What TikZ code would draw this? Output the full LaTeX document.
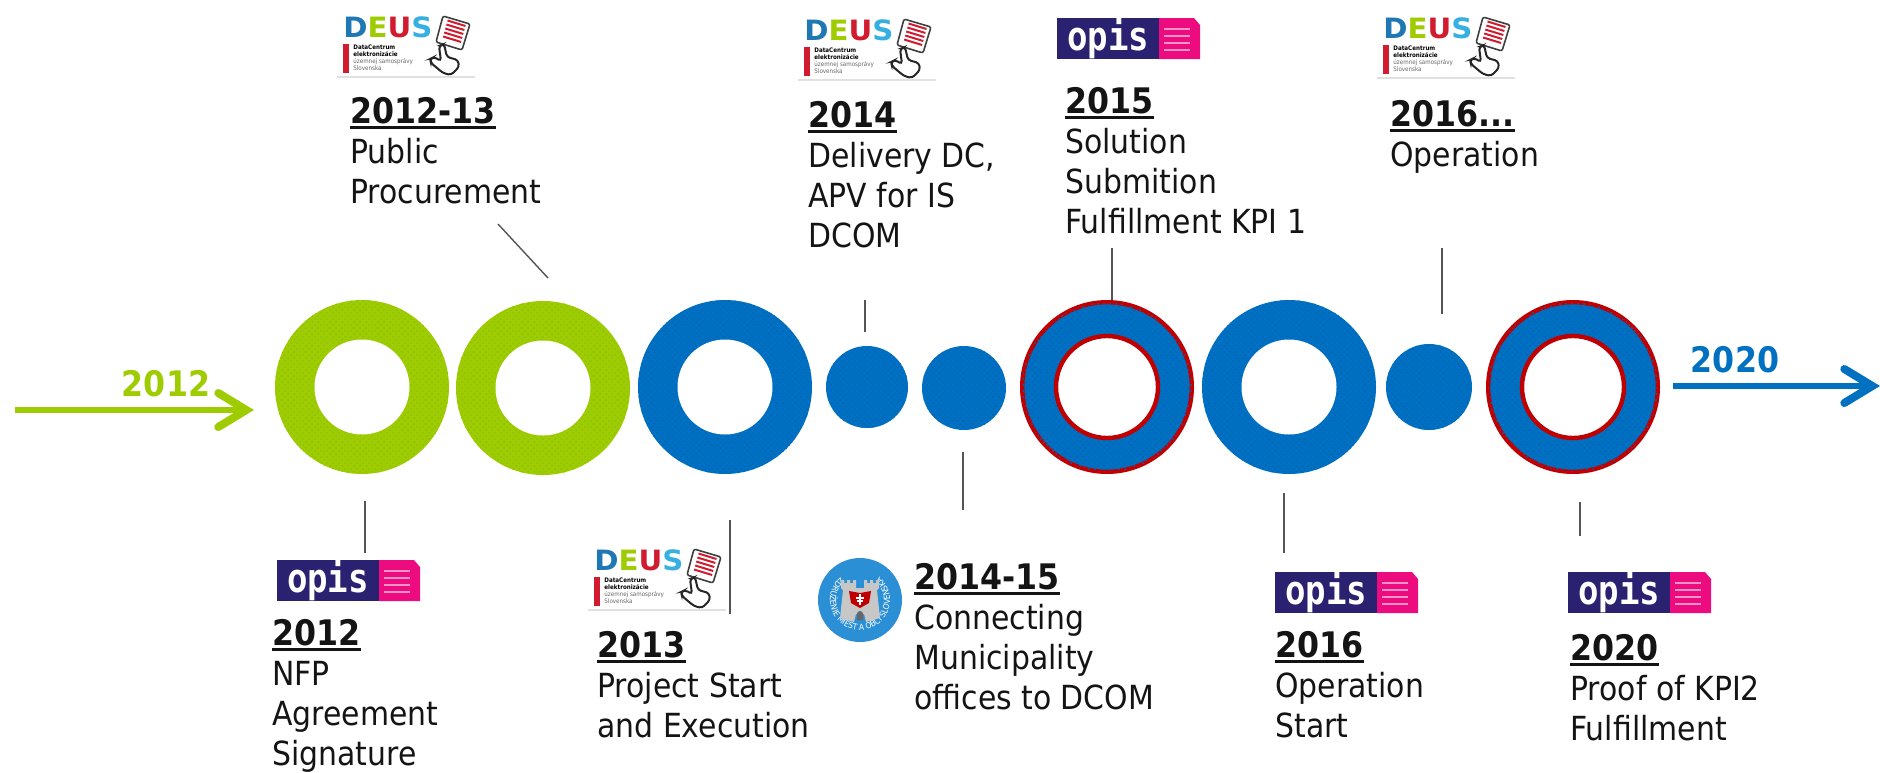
\documentclass[tikz,border=0pt]{standalone}
\usepackage{fontspec}
\setmainfont[FakeStretch=0.9]{DejaVu Sans}
\setmonofont{DejaVu Sans Mono}
\usetikzlibrary{arrows.meta,patterns,decorations.text}
\definecolor{ringgreen}{HTML}{9FCC00}
\definecolor{dotgreen}{HTML}{8AC40C}
\definecolor{ringblue}{HTML}{0070C0}
\definecolor{dotblue}{HTML}{0064C4}
\definecolor{ringred}{HTML}{C00000}
\definecolor{leadgray}{HTML}{555555}
\definecolor{opisnavy}{HTML}{2A2170}
\definecolor{opispink}{HTML}{EC0C80}
\definecolor{deusblue}{HTML}{1F77B4}
\definecolor{deussky}{HTML}{35B0E0}
\definecolor{deusred}{HTML}{D01C2E}
\definecolor{sealblue}{HTML}{2B8FD6}
\tikzset{
  greenring/.style={circle, inner sep=0pt, minimum size=87pt, fill=ringgreen, postaction={pattern=crosshatch dots, pattern color=dotgreen}},
  bluering/.style={circle, inner sep=0pt, minimum size=87pt, fill=ringblue, postaction={pattern=crosshatch dots, pattern color=dotblue}},
  redring/.style={circle, inner sep=0pt, minimum size=84.8pt, draw=ringred, line width=2.2pt, fill=ringblue, postaction={pattern=crosshatch dots, pattern color=dotblue}},
  bluedisc/.style={circle, inner sep=0pt, fill=ringblue, postaction={pattern=crosshatch dots, pattern color=dotblue}},
  holedisc/.style={circle, inner sep=0pt, minimum size=47.5pt, fill=white},
  redhole/.style={circle, inner sep=0pt, minimum size=51pt, draw=ringred, line width=2.2pt, fill=white},
  leaderline/.style={leadgray, line width=0.7pt},
  yeararrow/.style={line width=3pt, -{Straight Barb[length=14pt, width=17pt, line width=4pt, line cap=round]}},
  stepnote/.style={anchor=north west, inner sep=0pt, align=left, font=\fontsize{16.6}{20}\selectfont, text=black!92},
  tinyline/.style={anchor=north west, inner sep=0pt, align=left, font=\fontsize{3.1}{3.6}\selectfont},
}
\def\yr#1{\setbox0\hbox{\fontsize{17.6}{20}\selectfont\bfseries #1}\rlap{\copy0}\rule[-2.6pt]{\wd0}{1.5pt}}
\def\milestone(#1,#2,#3,#4,#5){
  \node[stepnote] (#1) at (#2,#3) {\yr{#4}\\#5};
}
\def\ringplain(#1,#2,#3,#4){
  \node[#4] (#1) at (#2,#3) {};
  \node[holedisc] (#1h) at (#1) {};
}
\def\ringred(#1,#2,#3){
  \node[redring] (#1) at (#2,#3) {};
  \node[redhole] (#1h) at (#1) {};
}
\def\leader(#1,#2,#3,#4,#5){
  \coordinate (#1a) at (#2,#3);
  \coordinate (#1b) at (#4,#5);
  \draw[leaderline] (#1a) -- (#1b);
}
\def\opislogo(#1,#2,#3){
  \begin{scope}[shift={(#2,#3)}]
  \fill[opisnavy] (0,0) rectangle (102,41);
  \fill[opispink] (102,0) -- (137,0) -- (143,7) -- (143,41) -- (102,41) -- cycle;
  \node[anchor=base, inner sep=0pt, text=white, font=\fontsize{20}{20}\ttfamily\bfseries, xscale=0.85] (#1) at (51,32) {opis};
  \foreach \ly in {11,18,25,32} \draw[white!55!opispink, line width=0.6pt] (107,\ly) -- (133,\ly);
  \end{scope}
}
\def\deuslogo(#1,#2,#3){
  \begin{scope}[shift={(#2,#3)}]
  \fill[black!12] (0,61) rectangle (138,63);
  \node[anchor=north west, inner sep=0pt, xscale=1.16, font=\fontsize{14}{14}\bfseries] (#1) at (6,1) {\textcolor{deusblue}{D}\textcolor{ringgreen}{E}\textcolor{deusred}{U}\textcolor{deussky}{S}};
  \fill[deusred] (6,29) rectangle (12,58);
  \node[tinyline] (#1t) at (16,29) {\textbf{DataCentrum}\\\textbf{elektronizácie}\\\textcolor{black!60}{územnej samosprávy}\\\textcolor{black!60}{Slovenska}};
  \draw[black!75, fill=white, line width=0.8pt, rounded corners=1pt] (106,1) -- (133,9) -- (125,35) -- (99,27) -- cycle;
  \foreach \ls in {0,1,2,3,4} \draw[deusred, line width=1pt] (110.5-\ls*1.1,5.5+\ls*4) -- (128.5-\ls*1.1,11+\ls*4);
  \draw[black!85, fill=white, line width=1pt, rounded corners=1.5pt] (102,31) -- (107,29) -- (110,42) -- (121,45) -- (122,52) -- (114,60) -- (106,58) -- (94,48) -- (93,44) -- (97,42) -- (104,46) -- cycle;
  \end{scope}
}
\begin{document}
\begin{tikzpicture}[x=0.5pt, y=-0.5pt]
\useasboundingbox (0,0) rectangle (1880,772);
% rings
\ringplain(ringa,362,387,greenring)
\ringplain(ringb,543,388,greenring)
\ringplain(ringc,725,387,bluering)
\node[bluedisc, minimum size=41pt] (disca) at (867,387) {};
\node[bluedisc, minimum size=42pt] (discb) at (964,388) {};
\ringred(ringd,1107,387)
\ringplain(ringe,1289,387,bluering)
\node[bluedisc, minimum size=43pt] (discc) at (1429,387) {};
\ringred(ringf,1573,387)
% arrows
\coordinate (startin) at (15,410);
\coordinate (startout) at (254,410);
\draw[yeararrow, ringgreen] (startin) -- (startout);
\coordinate (endin) at (1673,386);
\coordinate (endout) at (1880,386);
\draw[yeararrow, ringblue] (endin) -- (endout);
\node[text=ringgreen, font=\fontsize{17.6}{20}\bfseries] (startyear) at (166,384) {2012};
\node[text=ringblue, font=\fontsize{17.6}{20}\bfseries] (endyear) at (1735,360) {2020};
% leader lines
\leader(leadb,498,224,548,278)
\leader(leada,365,501,365,553)
\leader(leadc,730,520,730,614)
\leader(leadd,865,300,865,332)
\leader(leade,963,452,963,510)
\leader(leadf,1112,248,1112,300)
\leader(leadg,1284,493,1284,553)
\leader(leadh,1442,248,1442,314)
\leader(leadi,1580,502,1580,536)
% logos
\deuslogo(deusa,337,15)
\deuslogo(deusb,798,18)
\deuslogo(deusc,1377,16)
\deuslogo(deusd,588,548)
\opislogo(opisa,277,560)
\opislogo(opisb,1057,18)
\opislogo(opisc,1275,572)
\opislogo(opisd,1568,572)
% municipal seal
\node[circle, fill=sealblue, minimum size=42pt, inner sep=0pt] (seal) at (860,600) {};
\path[decorate, decoration={text along path, text align=center, text={|\fontsize{4.2}{4}\selectfont\color{white}|ZDRUŽENIE MIEST A OBCÍ SLOVENSKA}}] (860,600) ++(230:30) arc[start angle=230, end angle=-50, radius=30];
\begin{scope}[shift={(860,600)}]
  \fill[black!22] (-19,-20) -- (-16,-20) -- (-16,-17) -- (-13,-17) -- (-13,-20) -- (-10,-20) -- (-10,-17) -- (-7,-17) -- (-7,-20) -- (-4,-20) -- (-4,-12) -- (4,-12) -- (4,-20) -- (7,-20) -- (7,-17) -- (10,-17) -- (10,-20) -- (13,-20) -- (13,-17) -- (16,-17) -- (16,-20) -- (19,-20) -- (19,-12) -- (17,-10) -- (20,18) -- (6,22) -- (4,14) -- (-4,14) -- (-6,22) -- (-20,18) -- (-17,-10) -- (-19,-12) -- cycle;
  \fill[ringred] (-11,-9) -- (0,-7) -- (11,-9) -- (9,3) -- (0,8) -- (-9,3) -- cycle;
  \fill[white] (-1,-6) rectangle (1,5);
  \fill[white] (-4,-3) rectangle (4,-1.5);
  \fill[white] (-3,0) rectangle (3,1.5);
  \fill[black!60] (-3,14) arc[start angle=180, end angle=360, radius=3] -- (3,20) -- (-3,20) -- cycle;
\end{scope}
% milestones
\milestone(noteb,350,97,2012-13,Public\\Procurement)
\milestone(notea,272,619,2012,NFP\\Agreement\\Signature)
\milestone(notec,597,631,2013,Project Start\\and Execution)
\milestone(noted,808,101,2014,Delivery DC,\\APV for IS\\DCOM)
\milestone(notee,914,563,2014-15,Connecting\\Municipality\\offices to DCOM)
\milestone(notef,1065,87,2015,Solution\\Submition\\Fulfillment KPI 1)
\milestone(noteh,1390,100,2016...,Operation)
\milestone(noteg,1275,631,2016,Operation\\Start)
\milestone(notei,1570,634,2020,Proof of KPI2\\Fulfillment)
\end{tikzpicture}
\end{document}
